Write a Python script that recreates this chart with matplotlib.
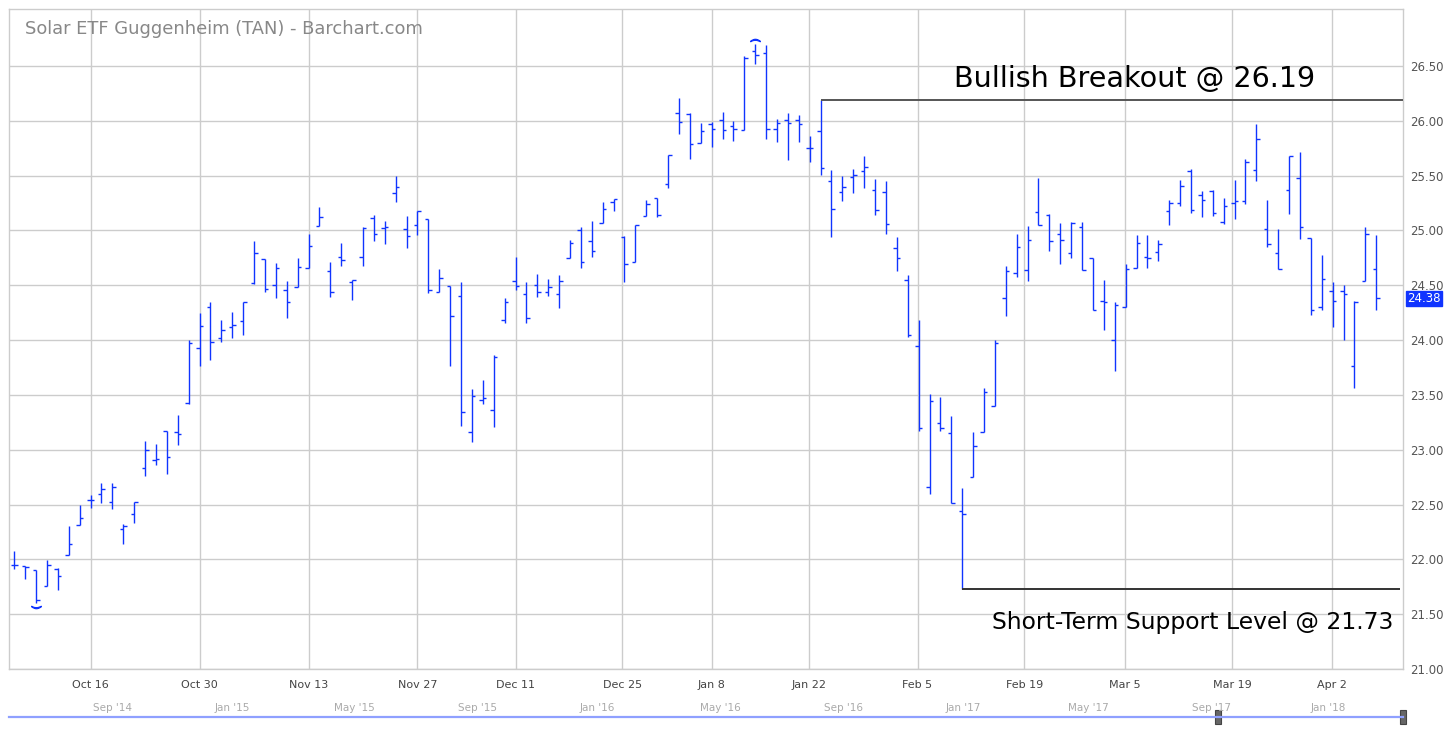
import matplotlib
matplotlib.use('Agg')
import matplotlib.pyplot as plt
from matplotlib.lines import Line2D
from matplotlib.patches import Rectangle

# ---------------- data (daily OHLC, TAN, Oct 5 2017 - Apr 6 2018) ----------------
opens = [21.95, 21.94, 21.90, 21.76, 21.91, 22.04, 22.31, 22.54, 22.60, 22.52,
         22.28, 22.41, 22.83, 22.91, 23.17, 23.16, 23.43, 23.93, 24.30, 24.02,
         24.12, 24.17, 24.52, 24.74, 24.50, 24.46, 24.48, 24.66, 25.04, 24.63,
         24.76, 24.53, 24.76, 25.11, 25.02, 25.34, 25.01, 25.05, 25.10, 24.44,
         24.49, 24.40, 23.16, 23.45, 23.36, 24.18, 24.54, 24.42, 24.50, 24.44,
         24.42, 24.75, 25.00, 24.90, 25.07, 25.26, 24.94, 24.71, 25.13, 25.30,
         25.42, 26.07, 26.06, 25.80, 25.97, 26.01, 25.95, 25.92, 26.64, 26.62,
         25.93, 26.01, 26.01, 25.75, 25.91, 25.45, 25.35, 25.49, 25.54, 25.37,
         25.35, 24.84, 24.55, 23.95, 22.66, 23.24, 23.15, 22.44, 22.75, 23.16,
         23.40, 24.38, 24.61, 24.64, 25.17, 25.14, 24.97, 24.79, 25.03, 24.75,
         24.36, 24.00, 24.30, 24.66, 24.76, 24.80, 25.18, 25.25, 25.54, 25.32,
         25.36, 25.08, 25.25, 25.27, 25.55, 25.01, 24.79, 25.37, 25.48, 24.93,
         24.30, 24.45, 24.45, 23.76, 24.54, 24.65]
highs = [22.08, 21.94, 21.90, 21.99, 21.92, 22.30, 22.50, 22.59, 22.70, 22.70,
         22.32, 22.52, 23.08, 23.05, 23.17, 23.32, 24.00, 24.25, 24.35, 24.18,
         24.26, 24.35, 24.90, 24.74, 24.70, 24.54, 24.75, 24.97, 25.21, 24.71,
         24.89, 24.55, 25.03, 25.14, 25.09, 25.50, 25.13, 25.18, 25.10, 24.65,
         24.49, 24.53, 23.55, 23.64, 23.86, 24.38, 24.76, 24.53, 24.60, 24.56,
         24.59, 24.91, 25.03, 25.09, 25.26, 25.29, 24.95, 25.05, 25.28, 25.30,
         25.69, 26.21, 26.07, 25.98, 25.99, 26.08, 26.00, 26.59, 26.70, 26.69,
         26.02, 26.07, 26.05, 25.86, 26.19, 25.55, 25.50, 25.56, 25.68, 25.47,
         25.45, 24.94, 24.59, 24.18, 23.51, 23.48, 23.31, 22.65, 23.16, 23.56,
         24.00, 24.68, 24.97, 25.04, 25.48, 25.15, 25.07, 25.08, 25.08, 24.75,
         24.55, 24.35, 24.69, 24.96, 24.96, 24.91, 25.28, 25.46, 25.56, 25.36,
         25.37, 25.30, 25.46, 25.65, 25.97, 25.28, 25.01, 25.68, 25.72, 24.93,
         24.78, 24.53, 24.50, 24.36, 25.03, 24.96]
lows = [21.91, 21.82, 21.60, 21.76, 21.72, 22.04, 22.31, 22.47, 22.51, 22.46,
        22.14, 22.33, 22.76, 22.86, 22.78, 23.04, 23.42, 23.76, 23.82, 23.98,
        24.02, 24.05, 24.51, 24.44, 24.38, 24.20, 24.48, 24.66, 25.04, 24.39,
        24.68, 24.37, 24.68, 24.90, 24.88, 25.26, 24.84, 24.96, 24.43, 24.44,
        23.76, 23.22, 23.07, 23.42, 23.21, 24.16, 24.46, 24.16, 24.39, 24.40,
        24.29, 24.75, 24.66, 24.76, 25.07, 25.18, 24.53, 24.71, 25.13, 25.12,
        25.39, 25.88, 25.65, 25.80, 25.76, 25.83, 25.82, 25.92, 26.52, 25.83,
        25.81, 25.64, 25.81, 25.62, 25.51, 24.94, 25.27, 25.34, 25.39, 25.14,
        24.97, 24.63, 24.03, 23.17, 22.60, 23.17, 22.51, 21.73, 22.75, 23.16,
        23.40, 24.22, 24.58, 24.54, 25.05, 24.81, 24.69, 24.75, 24.64, 24.27,
        24.09, 23.72, 24.30, 24.66, 24.66, 24.72, 25.05, 25.22, 25.16, 25.12,
        25.13, 25.06, 25.10, 25.24, 25.45, 24.85, 24.65, 25.15, 24.92, 24.23,
        24.27, 24.12, 24.00, 23.56, 24.54, 24.27]
closes = [21.95, 21.93, 21.63, 21.95, 21.85, 22.14, 22.38, 22.54, 22.64, 22.66,
          22.30, 22.52, 23.00, 22.92, 22.93, 23.14, 23.97, 24.13, 23.98, 24.09,
          24.14, 24.35, 24.79, 24.47, 24.66, 24.35, 24.67, 24.86, 25.12, 24.44,
          24.73, 24.55, 25.02, 24.97, 25.03, 25.40, 24.95, 25.18, 24.46, 24.57,
          24.22, 23.34, 23.49, 23.47, 23.85, 24.35, 24.49, 24.20, 24.44, 24.48,
          24.54, 24.89, 24.71, 24.81, 25.20, 25.29, 24.69, 25.05, 25.24, 25.14,
          25.69, 25.99, 25.79, 25.91, 25.93, 25.92, 25.93, 26.57, 26.60, 25.93,
          25.98, 25.98, 25.97, 25.75, 25.57, 25.20, 25.40, 25.51, 25.58, 25.19,
          25.06, 24.75, 24.05, 23.20, 23.44, 23.20, 22.51, 22.41, 23.03, 23.53,
          23.97, 24.63, 24.85, 24.91, 25.05, 24.90, 24.91, 25.07, 24.64, 24.27,
          24.35, 24.32, 24.65, 24.89, 24.75, 24.88, 25.25, 25.41, 25.19, 25.28,
          25.16, 25.22, 25.27, 25.62, 25.83, 24.88, 24.65, 25.68, 25.03, 24.27,
          24.56, 24.36, 24.42, 24.35, 24.97, 24.38]

tick_labels = ['Oct 16', 'Oct 30', 'Nov 13', 'Nov 27', 'Dec 11', 'Dec 25', 'Jan 8',
               'Jan 22', 'Feb 5', 'Feb 19', 'Mar 5', 'Mar 19', 'Apr 2']
tick_idx = [7, 17, 27, 37, 46, 55.8, 64, 72.9, 82.9, 92.7, 101.9, 111.8, 120.9]

nav_labels = ["Sep '14", "Jan '15", "May '15", "Sep '15", "Jan '16", "May '16",
              "Sep '16", "Jan '17", "May '17", "Sep '17", "Jan '18"]
nav_px = [113, 232, 354, 478, 597, 720, 844, 963, 1088, 1211, 1328]

breakout = 26.19
breakout_start = 74
support = 21.73
support_start = 87
last_price = 24.38

title = 'Solar ETF Guggenheim (TAN) - Barchart.com'

# ---------------- figure ----------------
W, H = 1448, 732
fig = plt.figure(figsize=(W / 100, H / 100), dpi=100)
fig.patch.set_facecolor('white')
ax = fig.add_axes([9 / W, 63 / H, 1394 / W, 660 / H])

bar_col = '#1034ff'
n = len(opens)
idx = list(range(n))
ax.vlines(idx, lows, highs, color=bar_col, lw=1.0, zorder=3)
ax.hlines(opens, [i - 0.32 for i in idx], idx, color=bar_col, lw=1.0, zorder=3)
ax.hlines(closes, idx, [i + 0.32 for i in idx], color=bar_col, lw=1.0, zorder=3)

# highest high / lowest low markers
ih = highs.index(max(highs))
il = lows.index(min(lows))
ax.plot([ih], [highs[ih] + 0.035], marker=r'$\frown$', ms=7, color=bar_col, zorder=3)
ax.plot([il], [lows[il] - 0.035], marker=r'$\smile$', ms=7, color=bar_col, zorder=3)

ax.set_xlim(-0.49, 127.46)
ax.set_ylim(21.0, 27.02)

yt = [21.0 + 0.5 * k for k in range(12)]
ax.set_yticks(yt)
ax.set_yticklabels([f'{v:.2f}' for v in yt])
ax.yaxis.tick_right()
ax.tick_params(axis='y', length=0, pad=5, labelsize=8.5, labelcolor='#555555')
ax.set_xticks(tick_idx)
ax.set_xticklabels(tick_labels, family=['Liberation Sans Narrow', 'DejaVu Sans'])
ax.tick_params(axis='x', length=0, pad=8, labelsize=8, labelcolor='#444444')

ax.grid(True, color='#cccccc', lw=1.0, zorder=0)
ax.set_axisbelow(True)
for s in ax.spines.values():
    s.set_color('#cccccc')
    s.set_linewidth(1.0)

# annotation lines
ax.hlines(breakout, breakout_start, 127.46, color='#555555', lw=1.4, zorder=4)
ax.hlines(support, support_start, 127.2, color='#333333', lw=1.4, zorder=4)
ax.text(119.4, breakout + 0.065, f'Bullish Breakout @ {breakout:.2f}', fontsize=20.6,
        color='black', ha='right', va='bottom', zorder=5)
ax.text(126.6, support - 0.2, f'Short-Term Support Level @ {support:.2f}', fontsize=16.9,
        color='black', ha='right', va='top', zorder=5)

# last price tag
ax.annotate(f'{last_price:.2f}', xy=(1.0, last_price), xycoords=('axes fraction', 'data'),
            xytext=(4, 0), textcoords='offset pixels', ha='left', va='center',
            fontsize=8.5, color='white',
            bbox=dict(boxstyle='square,pad=0.12', fc='#1034ff', ec='#1034ff'), zorder=6,
            annotation_clip=False)

# title
fig.text(25 / W, 1 - 28.5 / H, title, fontsize=12.9, color='#888888', ha='left', va='center')

# navigator
for lab, px in zip(nav_labels, nav_px):
    fig.text(px / W, 1 - 708 / H, lab, fontsize=7.5, color='#aaaaaa', ha='center', va='center',
             family=['Liberation Sans Narrow', 'DejaVu Sans'])
fig.add_artist(Line2D([9 / W, 1403 / W], [1 - 717 / H, 1 - 717 / H], color='#8fa0ff', lw=1.6))
for hx in (1218, 1403):
    fig.add_artist(Rectangle(((hx - 3) / W, 1 - 724 / H), 6 / W, 14 / H,
                             fc='#666666', ec='#444444', lw=0.8))

fig.savefig('out.png', dpi=100)
